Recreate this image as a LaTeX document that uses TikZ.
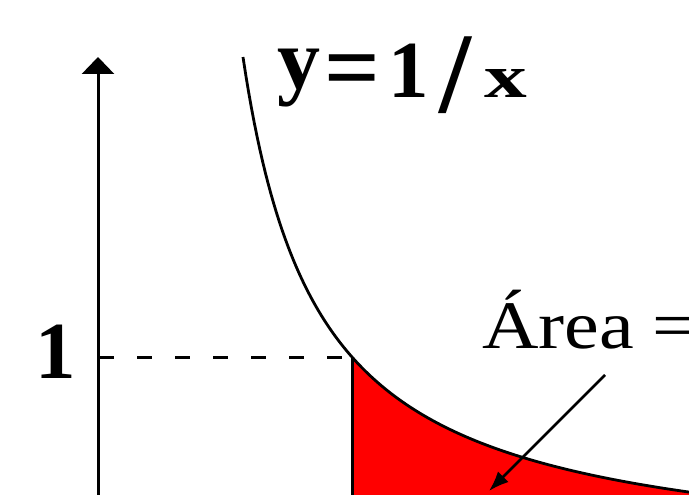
\documentclass[tikz,border=0pt]{standalone}
\usepackage{fontspec}
\setmainfont{Liberation Serif}
\usepackage{graphicx}
\usetikzlibrary{arrows.meta}
\begin{document}
\begin{tikzpicture}[x=1pt,y=-1pt,
  axisline/.style={line width=3pt},
  curveline/.style={line width=2.8pt},
  guide/.style={line width=3pt, dash pattern=on 15pt off 23pt},
  pointer/.style={line width=2.6pt,-{Latex[length=20pt,width=15pt]}}]
\useasboundingbox (0,0) rectangle (689,495);
% red area
\fill[red] (352,357) -- plot[domain=352:689,samples=80] (\x,{566.2-3869.7/((\x-167)/10)}) -- (689,495) -- (352,495) -- cycle;
% curve y = 1/x
\draw[curveline] plot[domain=243:689,samples=160] (\x,{566.2-3869.7/((\x-167)/10)});
% coordinates
\coordinate (ax0) at (98,495);
\coordinate (ax1) at (98,57);
\coordinate (p1) at (352,357);
\coordinate (y1) at (99,357);
\coordinate (pb) at (352,495);
\coordinate (ar0) at (605,375);
\coordinate (ar1) at (489,491);
% vertical line at x=1
\draw[line width=3pt] (p1) -- (pb);
% dashed guide
\draw[guide] (y1) -- (p1);
% axis
\draw[axisline,-{Triangle[length=17pt,width=32pt]}] (ax0) -- (ax1);
% pointer
\draw[pointer] (ar0) -- (ar1);
% labels
\node[anchor=base,inner sep=0] (one) at (56,378) {\fontsize{81}{81}\selectfont\bfseries 1};
\node[anchor=base west,inner sep=0] (fn) at (277,98) {\bfseries
  \raisebox{9pt}{\fontsize{86}{86}\selectfont y}\kern4pt
  \raisebox{-2pt}{\fontsize{98}{98}\selectfont =}\kern8pt
  {\fontsize{81}{81}\selectfont 1}\kern11pt
  \raisebox{-15pt}{\fontsize{115}{115}\selectfont /}\kern13pt
  \scalebox{1.4}[1]{\fontsize{61}{61}\selectfont x}};
\node[anchor=base west,inner sep=0] (area) at (482,348) {\scalebox{1.15}[1]{\fontsize{68}{68}\selectfont Área\kern16pt=}};
\end{tikzpicture}
\end{document}
